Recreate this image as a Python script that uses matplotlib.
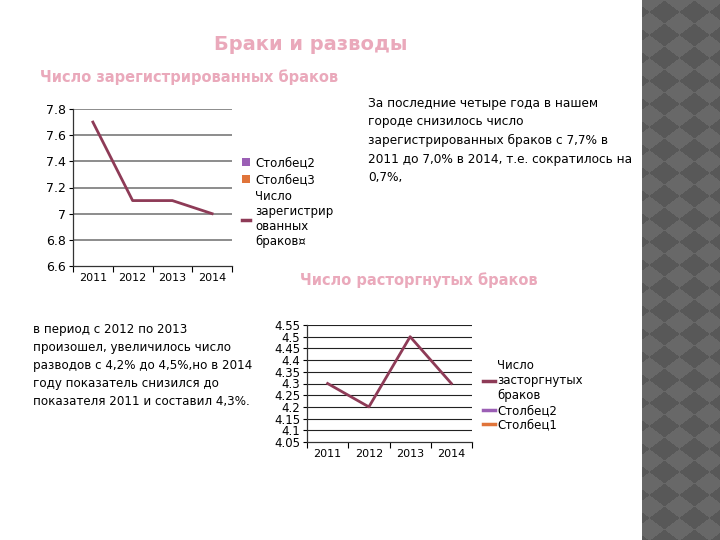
import numpy as np
import matplotlib
matplotlib.use("Agg")
import matplotlib.pyplot as plt
from matplotlib.lines import Line2D
from matplotlib.patches import Patch
from matplotlib.ticker import FuncFormatter

years = ["2011", "2012", "2013", "2014"]
marriages = [7.7, 7.1, 7.1, 7.0]
divorces = [4.3, 4.2, 4.5, 4.3]

marriages_ticks = [6.6, 6.8, 7.0, 7.2, 7.4, 7.6, 7.8]
divorces_ticks = [4.05, 4.1, 4.15, 4.2, 4.25, 4.3, 4.35, 4.4, 4.45, 4.5, 4.55]

title = "Браки и разводы"
marriages_title = "Число зарегистрированных браков"
divorces_title = "Число расторгнутых браков"
marriages_note = ("За последние четыре года в нашем\n"
                  "городе снизилось число\n"
                  "зарегистрированных браков с 7,7% в\n"
                  "2011 до 7,0% в 2014, т.е. сократилось на\n"
                  "0,7%,")
divorces_note = ("в период с 2012 по 2013\n"
                 "произошел, увеличилось число\n"
                 "разводов с 4,2% до 4,5%,но в 2014\n"
                 "году показатель снизился до\n"
                 "показателя 2011 и составил 4,3%.")

LINE = "#8e3b57"
PURPLE = "#9b5fb5"
ORANGE = "#e0743a"
PINK = "#eaa9bb"

W, H = 720, 540
fig = plt.figure(figsize=(7.2, 5.4), dpi=100)
fig.patch.set_facecolor("white")


def px_axes(x0, y0, x1, y1):
  # pixel box (top-left origin) -> figure axes
  return fig.add_axes([x0 / W, 1 - y1 / H, (x1 - x0) / W, (y1 - y0) / H])


# decorative diamond strip on the right
strip = px_axes(642, 0, 720, 540)
xx, yy = np.meshgrid(np.arange(78), np.arange(540))
pattern = (np.floor((xx + 8) / 30 + yy / 23) + np.floor((xx + 8) / 30 - yy / 23)) % 2
strip.imshow(pattern, cmap=matplotlib.colors.ListedColormap(["#686868", "#585858"]),
             aspect="auto", interpolation="nearest")
strip.axis("off")

fig.text(311 / W, 1 - 45 / H, title, color=PINK, fontsize=14, fontweight="bold",
         ha="center", va="center")
fig.text(40 / W, 1 - 77 / H, marriages_title, color=PINK, fontsize=10.5,
         fontweight="bold", ha="left", va="center")
fig.text(300 / W, 1 - 280 / H, divorces_title, color=PINK, fontsize=10.5,
         fontweight="bold", ha="left", va="center")

fig.text(368 / W, 1 - 97 / H, marriages_note, fontsize=8.7, ha="left", va="top",
         linespacing=1.55)
fig.text(33 / W, 1 - 323 / H, divorces_note, fontsize=8.6, ha="left", va="top",
         linespacing=1.5)


def style_axes(ax, ticks, grid_color, grid_lw):
  x = np.arange(len(years))
  ax.set_xlim(-0.5, len(years) - 0.5)
  ax.set_ylim(ticks[0], ticks[-1])
  ax.set_yticks(ticks)
  ax.yaxis.set_major_formatter(FuncFormatter(lambda v, p: f"{v:g}"))
  ax.set_xticks(x)
  ax.set_xticklabels(years)
  ax.set_xticks(np.arange(len(years) + 1) - 0.5, minor=True)
  ax.tick_params(axis="x", which="major", length=0, labelsize=8, pad=5)
  ax.tick_params(axis="x", which="minor", length=4, width=0.8)
  ax.tick_params(axis="y", length=3, width=0.8, labelsize=8.5, pad=2)
  for t in ticks[1:]:
    ax.axhline(t, color=grid_color, lw=grid_lw, zorder=1)
  for side in ("top", "right"):
    ax.spines[side].set_visible(False)
  for side in ("left", "bottom"):
    ax.spines[side].set_color("#333333")
    ax.spines[side].set_linewidth(0.9)
  ax.set_facecolor("none")


ax1 = px_axes(73, 109, 232, 266)
style_axes(ax1, marriages_ticks, "#8c8c8c", 1.4)
ax1.plot(np.arange(len(years)), marriages, color=LINE, lw=2, zorder=3)
ax1.tick_params(axis="y", labelsize=9)
handles1 = [Patch(facecolor=PURPLE, edgecolor="none"),
            Patch(facecolor=ORANGE, edgecolor="none"),
            Line2D([], [], color=LINE, lw=2.5)]
fig.legend(handles1, ["Столбец2", "Столбец3", "Число\nзарегистрир\nованных\nбраков¤"],
           loc="upper left", bbox_to_anchor=(236 / W, 1 - 150 / H), frameon=False,
           fontsize=8.5, handlelength=0.7, handleheight=0.7, handletextpad=0.4,
           labelspacing=0.35, borderpad=0)

ax2 = px_axes(307, 325, 472, 442)
style_axes(ax2, divorces_ticks, "#222222", 0.8)
ax2.plot(np.arange(len(years)), divorces, color=LINE, lw=2, zorder=3)
handles2 = [Line2D([], [], color=LINE, lw=2.5),
            Line2D([], [], color=PURPLE, lw=2.5),
            Line2D([], [], color=ORANGE, lw=2.5)]
fig.legend(handles2, ["Число\nзасторгнутых\nбраков", "Столбец2", "Столбец1"],
           loc="upper left", bbox_to_anchor=(477 / W, 1 - 353 / H), frameon=False,
           fontsize=8.5, handlelength=1.0, handletextpad=0.2,
           labelspacing=0.15, borderpad=0)

fig.savefig("out.png", dpi=100)
plt.close()
